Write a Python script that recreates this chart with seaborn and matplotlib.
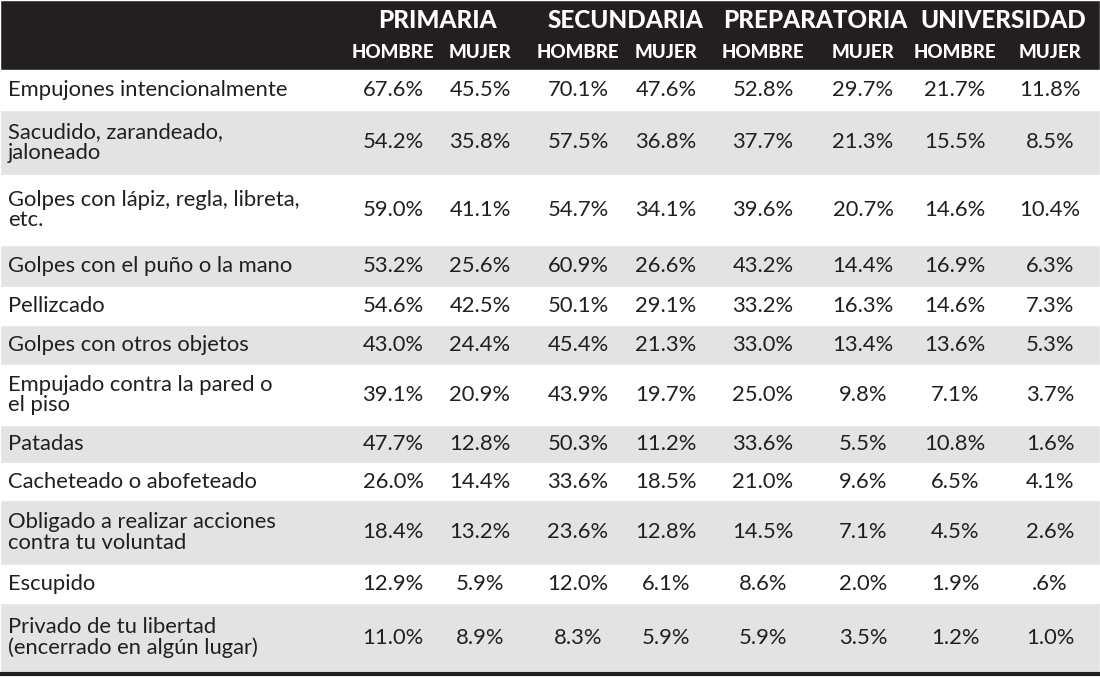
import matplotlib.pyplot as plt
import seaborn as sns

sns.set_theme(style="white", font="Lato")

levels = ["PRIMARIA", "SECUNDARIA", "PREPARATORIA", "UNIVERSIDAD"]
sexes = ["HOMBRE", "MUJER"]
labels = [
    "Empujones intencionalmente",
    "Sacudido, zarandeado,\njaloneado",
    "Golpes con lápiz, regla, libreta,\netc.",
    "Golpes con el puño o la mano",
    "Pellizcado",
    "Golpes con otros objetos",
    "Empujado contra la pared o\nel piso",
    "Patadas",
    "Cacheteado o abofeteado",
    "Obligado a realizar acciones\ncontra tu voluntad",
    "Escupido",
    "Privado de tu libertad\n(encerrado en algún lugar)",
]
values = [
    ["67.6%", "45.5%", "70.1%", "47.6%", "52.8%", "29.7%", "21.7%", "11.8%"],
    ["54.2%", "35.8%", "57.5%", "36.8%", "37.7%", "21.3%", "15.5%", "8.5%"],
    ["59.0%", "41.1%", "54.7%", "34.1%", "39.6%", "20.7%", "14.6%", "10.4%"],
    ["53.2%", "25.6%", "60.9%", "26.6%", "43.2%", "14.4%", "16.9%", "6.3%"],
    ["54.6%", "42.5%", "50.1%", "29.1%", "33.2%", "16.3%", "14.6%", "7.3%"],
    ["43.0%", "24.4%", "45.4%", "21.3%", "33.0%", "13.4%", "13.6%", "5.3%"],
    ["39.1%", "20.9%", "43.9%", "19.7%", "25.0%", "9.8%", "7.1%", "3.7%"],
    ["47.7%", "12.8%", "50.3%", "11.2%", "33.6%", "5.5%", "10.8%", "1.6%"],
    ["26.0%", "14.4%", "33.6%", "18.5%", "21.0%", "9.6%", "6.5%", "4.1%"],
    ["18.4%", "13.2%", "23.6%", "12.8%", "14.5%", "7.1%", "4.5%", "2.6%"],
    ["12.9%", "5.9%", "12.0%", "6.1%", "8.6%", "2.0%", "1.9%", ".6%"],
    ["11.0%", "8.9%", "8.3%", "5.9%", "5.9%", "3.5%", "1.2%", "1.0%"],
]

# layout in pixel units
row_edges = [70, 110, 175, 245, 287, 325, 365, 425, 463, 500, 565, 603, 672]
col_x = [393, 480, 578, 666, 763, 863, 955, 1050]
group_x = [437, 625, 815, 1003]

fig = plt.figure(figsize=(11, 6.79), dpi=100)
ax = fig.add_axes([0, 0, 1, 1])
ax.set_xlim(0, 1100)
ax.set_ylim(679, 0)
ax.axis("off")

# header band
ax.barh(35, 1100, height=70, left=0, color="#231f20")
for g, x in zip(levels, group_x):
    ax.text(x, 20, g, ha="center", va="center", color="white",
            fontsize=17.5, fontweight="heavy")
for i, x in enumerate(col_x):
    ax.text(x, 53, sexes[i % 2], ha="center", va="center", color="white",
            fontsize=13.5, fontweight="heavy")

# rows
for r, (lab, vals) in enumerate(zip(labels, values)):
    top, bot = row_edges[r], row_edges[r + 1]
    mid = (top + bot) / 2
    if r % 2 == 1:
        ax.barh(mid, 1100, height=bot - top, left=0, color="#e3e3e3")
    ax.text(8, mid, lab, ha="left", va="center", fontsize=15.8,
            color="#231f20", linespacing=1.05)
    for x, v in zip(col_x, vals):
        ax.text(x, mid, v, ha="center", va="center", fontsize=15.8,
                color="#231f20")

ax.plot([0, 1100], [674, 674], color="#231f20", lw=3)

fig.savefig("out.png", dpi=100)
